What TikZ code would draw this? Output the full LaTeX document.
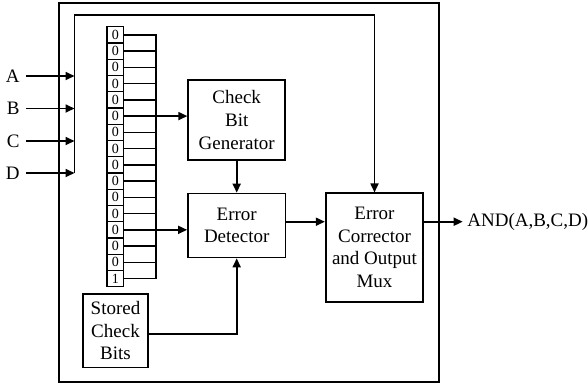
\documentclass[tikz,border=0pt]{standalone}
\usepackage{fontspec}
\setmainfont{Liberation Serif}
\usetikzlibrary{arrows.meta}
\begin{document}
\begin{tikzpicture}[x=1pt,y=-1pt,
  line width=1.7pt,
  arr/.style={-{Triangle[length=9pt,width=8pt]}},
  txt/.style={font=\fontsize{19}{22.7}\selectfont},
  blk/.style={txt, draw, inner sep=0pt, align=center},
  cell/.style={draw, line width=1.4pt, minimum width=16.7pt, minimum height=16.25pt,
               inner sep=0pt, font=\fontsize{14}{14}\selectfont},
  tap/.style={line width=1.4pt},
  lbl/.style={txt, inner sep=0pt}]
\useasboundingbox (0,0) rectangle (588,384);

% chip outline
\node[draw, minimum width=380pt, minimum height=378.7pt, inner sep=0pt] (chip) at (249,192.35) {};

% functional blocks
\node[blk, minimum width=97pt, minimum height=80pt] (cbg) at (236.7,120) {Check\\Bit\\Generator};
\node[blk, minimum width=97.5pt, minimum height=64pt] (ed) at (236.7,225.5) {Error\\Detector};
\node[blk, minimum width=97.6pt, minimum height=108.4pt] (ec) at (374.5,247.5) {Error\\Corrector\\and Output\\Mux};
\node[blk, minimum width=65.6pt, minimum height=73.3pt] (scb) at (115.5,330.7) {Stored\\Check\\Bits};

% 16-cell register
\foreach \i/\b in {0/0,1/0,2/0,3/0,4/0,5/0,6/0,7/0,8/0,9/0,10/0,11/0,12/0,13/0,14/0,15/1}
  \node[cell] (r\i) at (115.3,{34.825+16.25*\i}) {\b};
\coordinate (rbus) at (156,0);
\draw[tap] (r0.east) -| (r15.east -| rbus) -- (r15.east);
\foreach \i in {1,...,14}
  \draw[tap] (r\i.east) -- (r\i.east -| rbus);

% inputs
\node[lbl, anchor=east] (A) at (20.5,76) {A};
\node[lbl, anchor=east] (B) at (20.5,108.5) {B};
\node[lbl, anchor=east] (C) at (20.5,141) {C};
\node[lbl, anchor=east] (D) at (20.5,173) {D};
\coordinate (ftop) at (74.5,15);
\coordinate (fbot) at (74.5,173);
\foreach \n in {A,B,C,D}
  \draw[arr, shorten <=5.5pt] (\n.east) -- (\n.east -| ftop);

% feed-through of inputs to the output mux
\draw[arr] (fbot) -- (ftop) -| (ec.north);

% register taps to the checker blocks
\draw[arr] (r5.east) -- (r5.east -| cbg.west);
\draw[arr] (r12.east) -- (r12.east -| ed.west);
\draw[arr] (cbg.south) -- (ed.north);
\draw[arr] ([yshift=-3.6pt]scb.east) -| (ed.south);

% detector to corrector, and the output
\coordinate (lvl) at (0,221.7);
\draw[arr] (ed.east |- lvl) -- (ec.west |- lvl);
\node[lbl, anchor=west] (out) at (466.5,221.7) {AND(A,B,C,D)};
\draw[arr, shorten >=3.8pt] (ec.east |- out) -- (out.west);
\end{tikzpicture}
\end{document}
